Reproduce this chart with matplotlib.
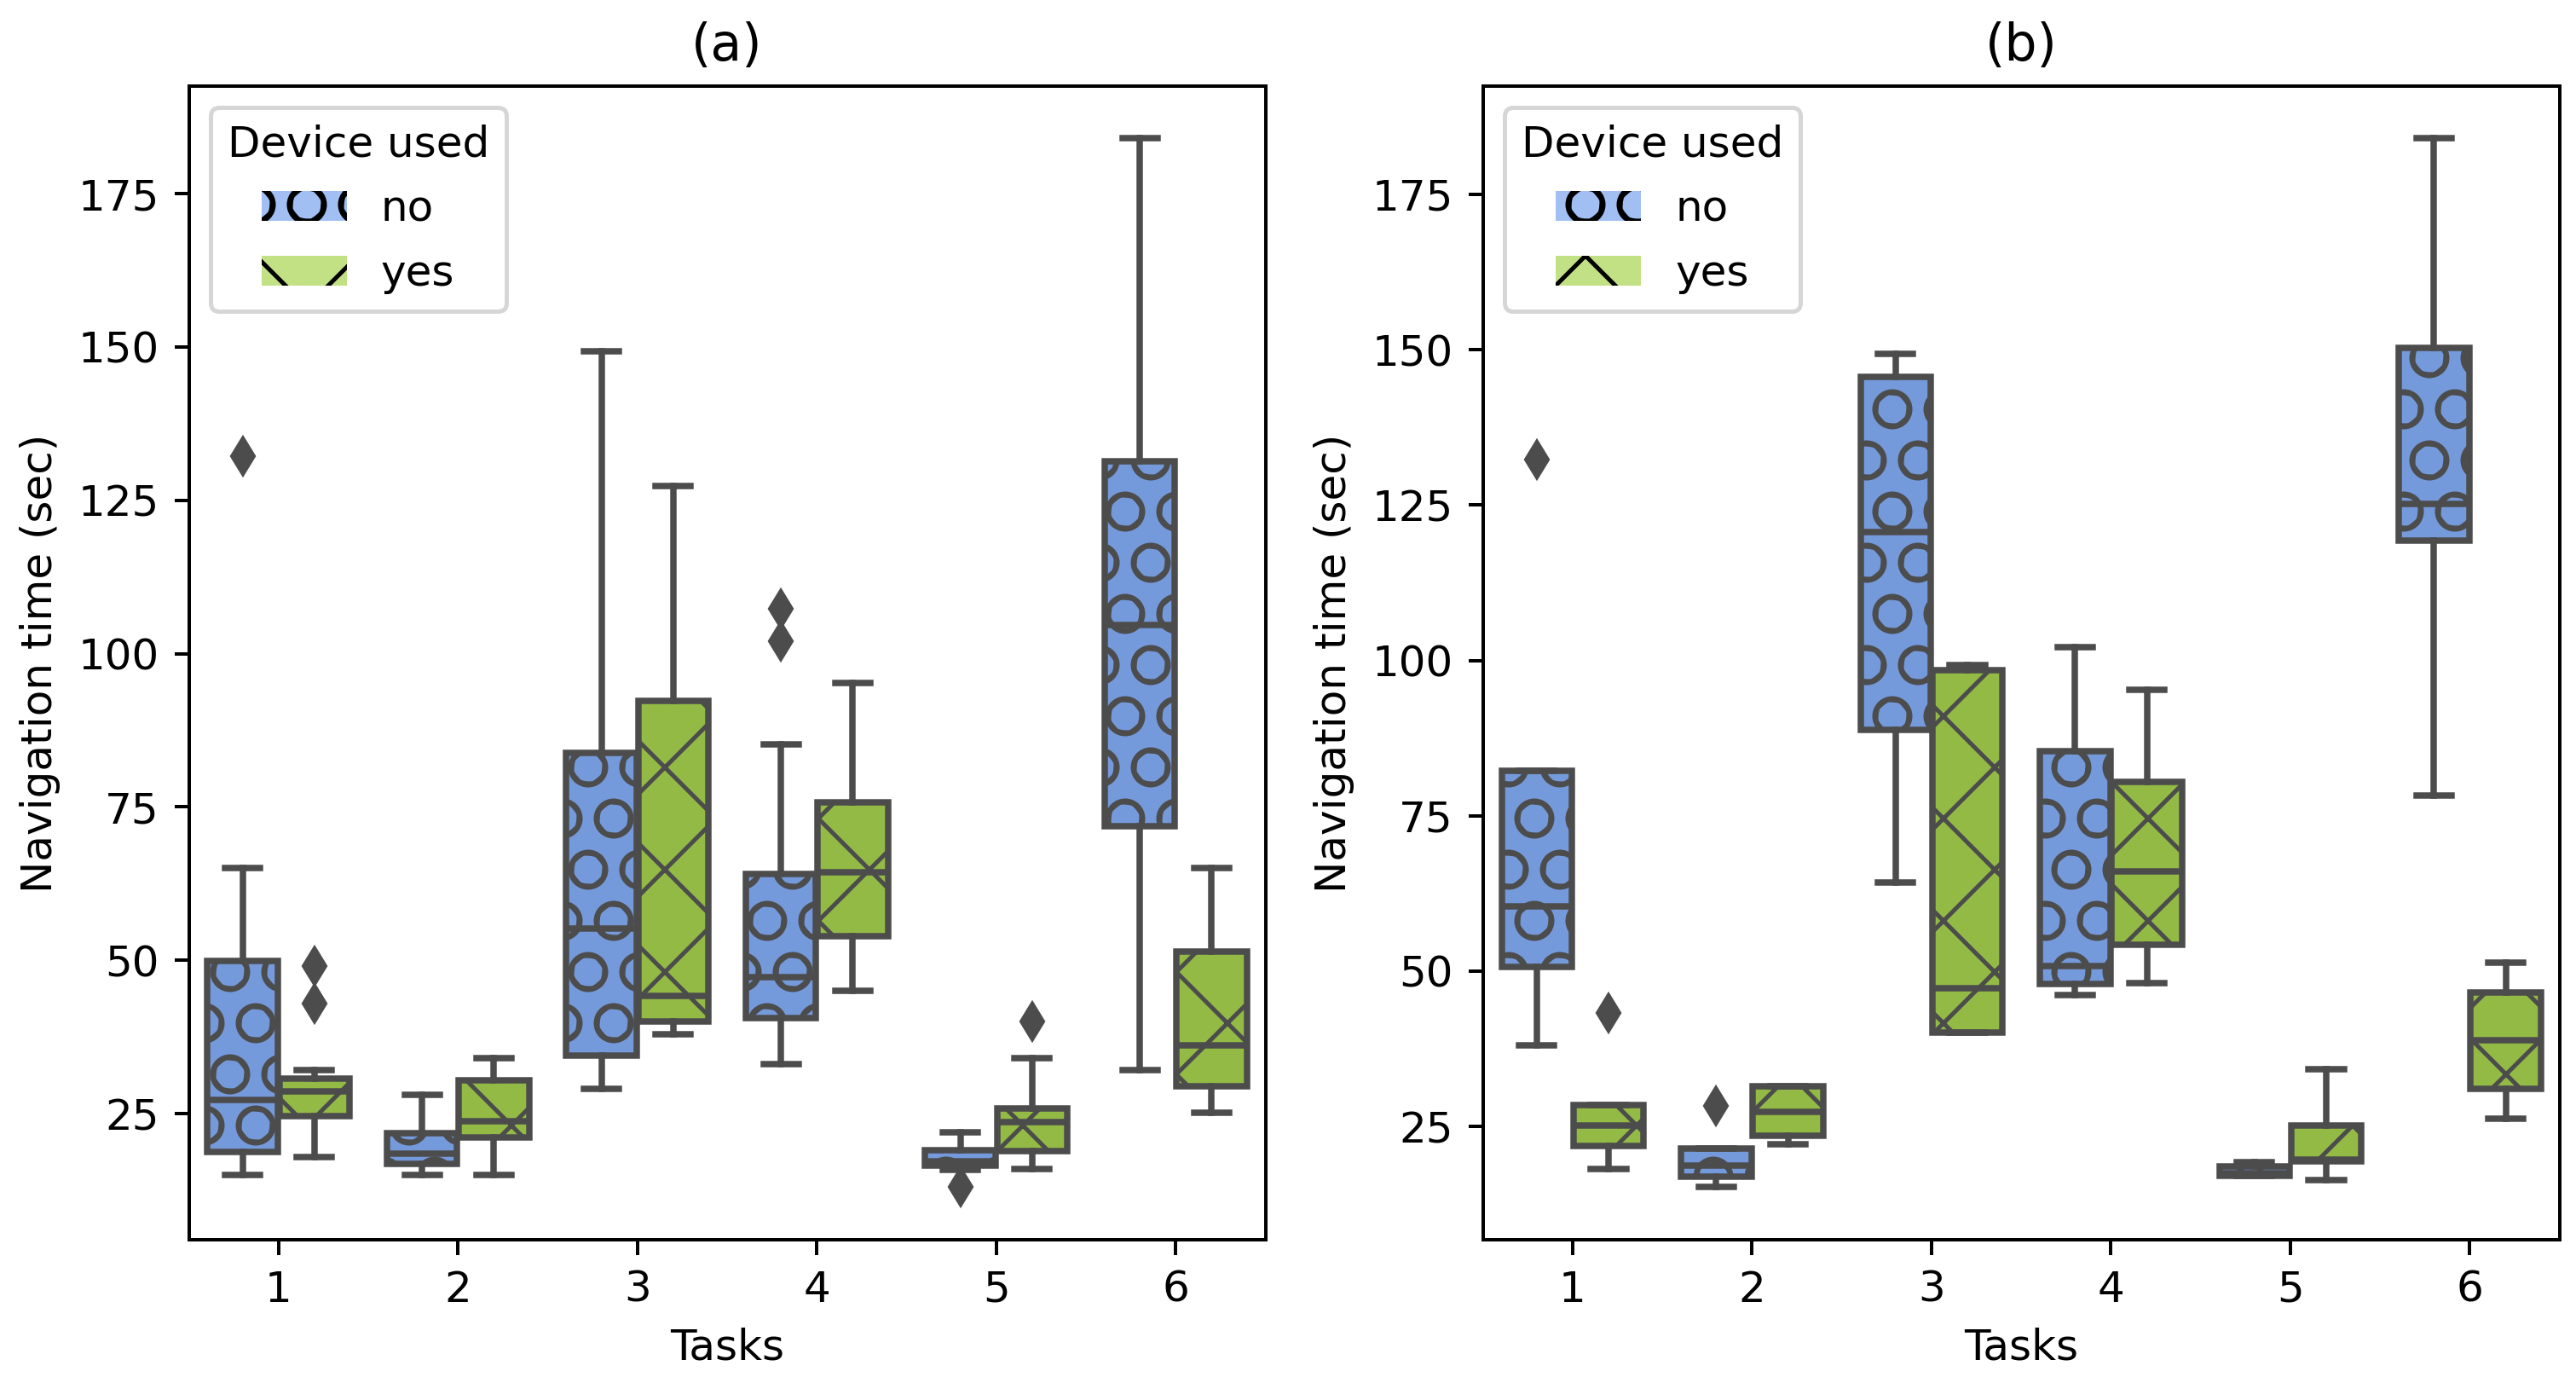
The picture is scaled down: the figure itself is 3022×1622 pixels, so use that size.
import numpy as np
import matplotlib
matplotlib.use("Agg")
import matplotlib.pyplot as plt
import matplotlib.patches as mpatches

# tasks on the x axis
tasks = ["1", "2", "3", "4", "5", "6"]
panel_titles = ["(a)", "(b)"]

# box statistics, device not used ("no") / used ("yes")
# panel (a)
a_no_q1 = [18.8, 16.8, 34.5, 40.6, 16.6, 71.8]
a_no_med = [27.2, 18.5, 55.2, 47.3, 17.3, 104.7]
a_no_q3 = [49.9, 21.8, 83.8, 64.1, 19.0, 131.4]
a_no_lo = [15.0, 15.0, 29.1, 33.1, 15.9, 32.1]
a_no_hi = [65.0, 28.1, 149.3, 85.2, 21.9, 184.0]
a_no_fliers = [[132.2], [], [], [107.3, 102.0], [13.0], []]

a_yes_q1 = [24.6, 21.1, 40.1, 54.0, 18.9, 29.5]
a_yes_med = [28.7, 23.8, 44.2, 64.3, 23.6, 36.1]
a_yes_q3 = [30.7, 30.4, 92.3, 75.7, 25.9, 51.4]
a_yes_lo = [17.9, 15.0, 38.0, 45.1, 16.0, 25.1]
a_yes_hi = [32.1, 34.1, 127.3, 95.2, 34.0, 65.0]
a_yes_fliers = [[49.1, 43.0], [], [], [], [40.0], []]

# panel (b)
b_no_q1 = [50.6, 16.9, 88.8, 47.9, 17.0, 119.3]
b_no_med = [60.4, 18.7, 120.6, 50.8, 17.5, 125.2]
b_no_q3 = [82.2, 21.4, 145.6, 85.4, 18.5, 150.3]
b_no_lo = [38.0, 15.2, 64.2, 46.2, 17.0, 78.3]
b_no_hi = [82.2, 21.4, 149.3, 102.1, 19.2, 184.0]
b_no_fliers = [[132.3], [28.3], [], [], [], []]

b_yes_q1 = [21.9, 23.5, 40.1, 54.2, 19.4, 31.0]
b_yes_med = [25.1, 27.4, 47.3, 66.0, 19.6, 38.8]
b_yes_q3 = [28.4, 31.4, 98.4, 80.4, 25.2, 46.6]
b_yes_lo = [18.2, 22.1, 40.1, 48.1, 16.3, 26.2]
b_yes_hi = [28.4, 31.4, 99.2, 95.3, 34.2, 51.4]
b_yes_fliers = [[43.2], [], [], [], [], []]

# colours (seaborn style: desaturated palette + gray lines)
no_color = "#759adc"
yes_color = "#93ba45"
gray = "#4c4c4c"


def make_stats(q1, med, q3, lo, hi, fliers):
    out = []
    for i in range(len(q1)):
        out.append(dict(q1=q1[i], med=med[i], q3=q3[i], whislo=lo[i],
                        whishi=hi[i], fliers=fliers[i]))
    return out


def draw_boxes(ax, stats, offset, color, hatch):
    pos = np.arange(len(stats)) + offset
    ax.bxp(stats, positions=pos, widths=0.392, patch_artist=True,
           showfliers=True, manage_ticks=False,
           boxprops=dict(facecolor=color, edgecolor=gray, linewidth=1.5, hatch=hatch),
           whiskerprops=dict(color=gray, linewidth=1.5),
           capprops=dict(color=gray, linewidth=1.5),
           medianprops=dict(color=gray, linewidth=1.5),
           flierprops=dict(marker="d", markerfacecolor=gray, markeredgecolor=gray,
                           markersize=5, markeredgewidth=1.5, linestyle="none"))


panels = [
    (make_stats(a_no_q1, a_no_med, a_no_q3, a_no_lo, a_no_hi, a_no_fliers),
     make_stats(a_yes_q1, a_yes_med, a_yes_q3, a_yes_lo, a_yes_hi, a_yes_fliers)),
    (make_stats(b_no_q1, b_no_med, b_no_q3, b_no_lo, b_no_hi, b_no_fliers),
     make_stats(b_yes_q1, b_yes_med, b_yes_q3, b_yes_lo, b_yes_hi, b_yes_fliers)),
]

dpi = 360
fig, axes = plt.subplots(1, 2, figsize=(3022 / dpi, 1622 / dpi), dpi=dpi)
fig.subplots_adjust(left=0.0733, right=0.9936, top=0.9378, bottom=0.1036, wspace=0.202)

for ax, (no_stats, yes_stats), title in zip(axes, panels, panel_titles):
    draw_boxes(ax, no_stats, -0.2, no_color, "O")
    draw_boxes(ax, yes_stats, 0.2, yes_color, "x")
    ax.set_xlim(-0.5, len(tasks) - 0.5)
    ax.set_xticks(np.arange(len(tasks)))
    ax.set_xticklabels(tasks)
    ax.set_xlabel("Tasks")
    ax.set_ylabel("Navigation time (sec)")
    ax.set_title(title)

    # legend patches are lighter (alpha) with black hatching
    handles = [mpatches.Patch(facecolor="cornflowerblue", alpha=0.6, hatch="O", label="no"),
               mpatches.Patch(facecolor="yellowgreen", alpha=0.6, hatch="x", label="yes")]
    ax.legend(handles=handles, title="Device used", loc="upper left", labelspacing=0.55)

fig.savefig("out.png", dpi=dpi)
